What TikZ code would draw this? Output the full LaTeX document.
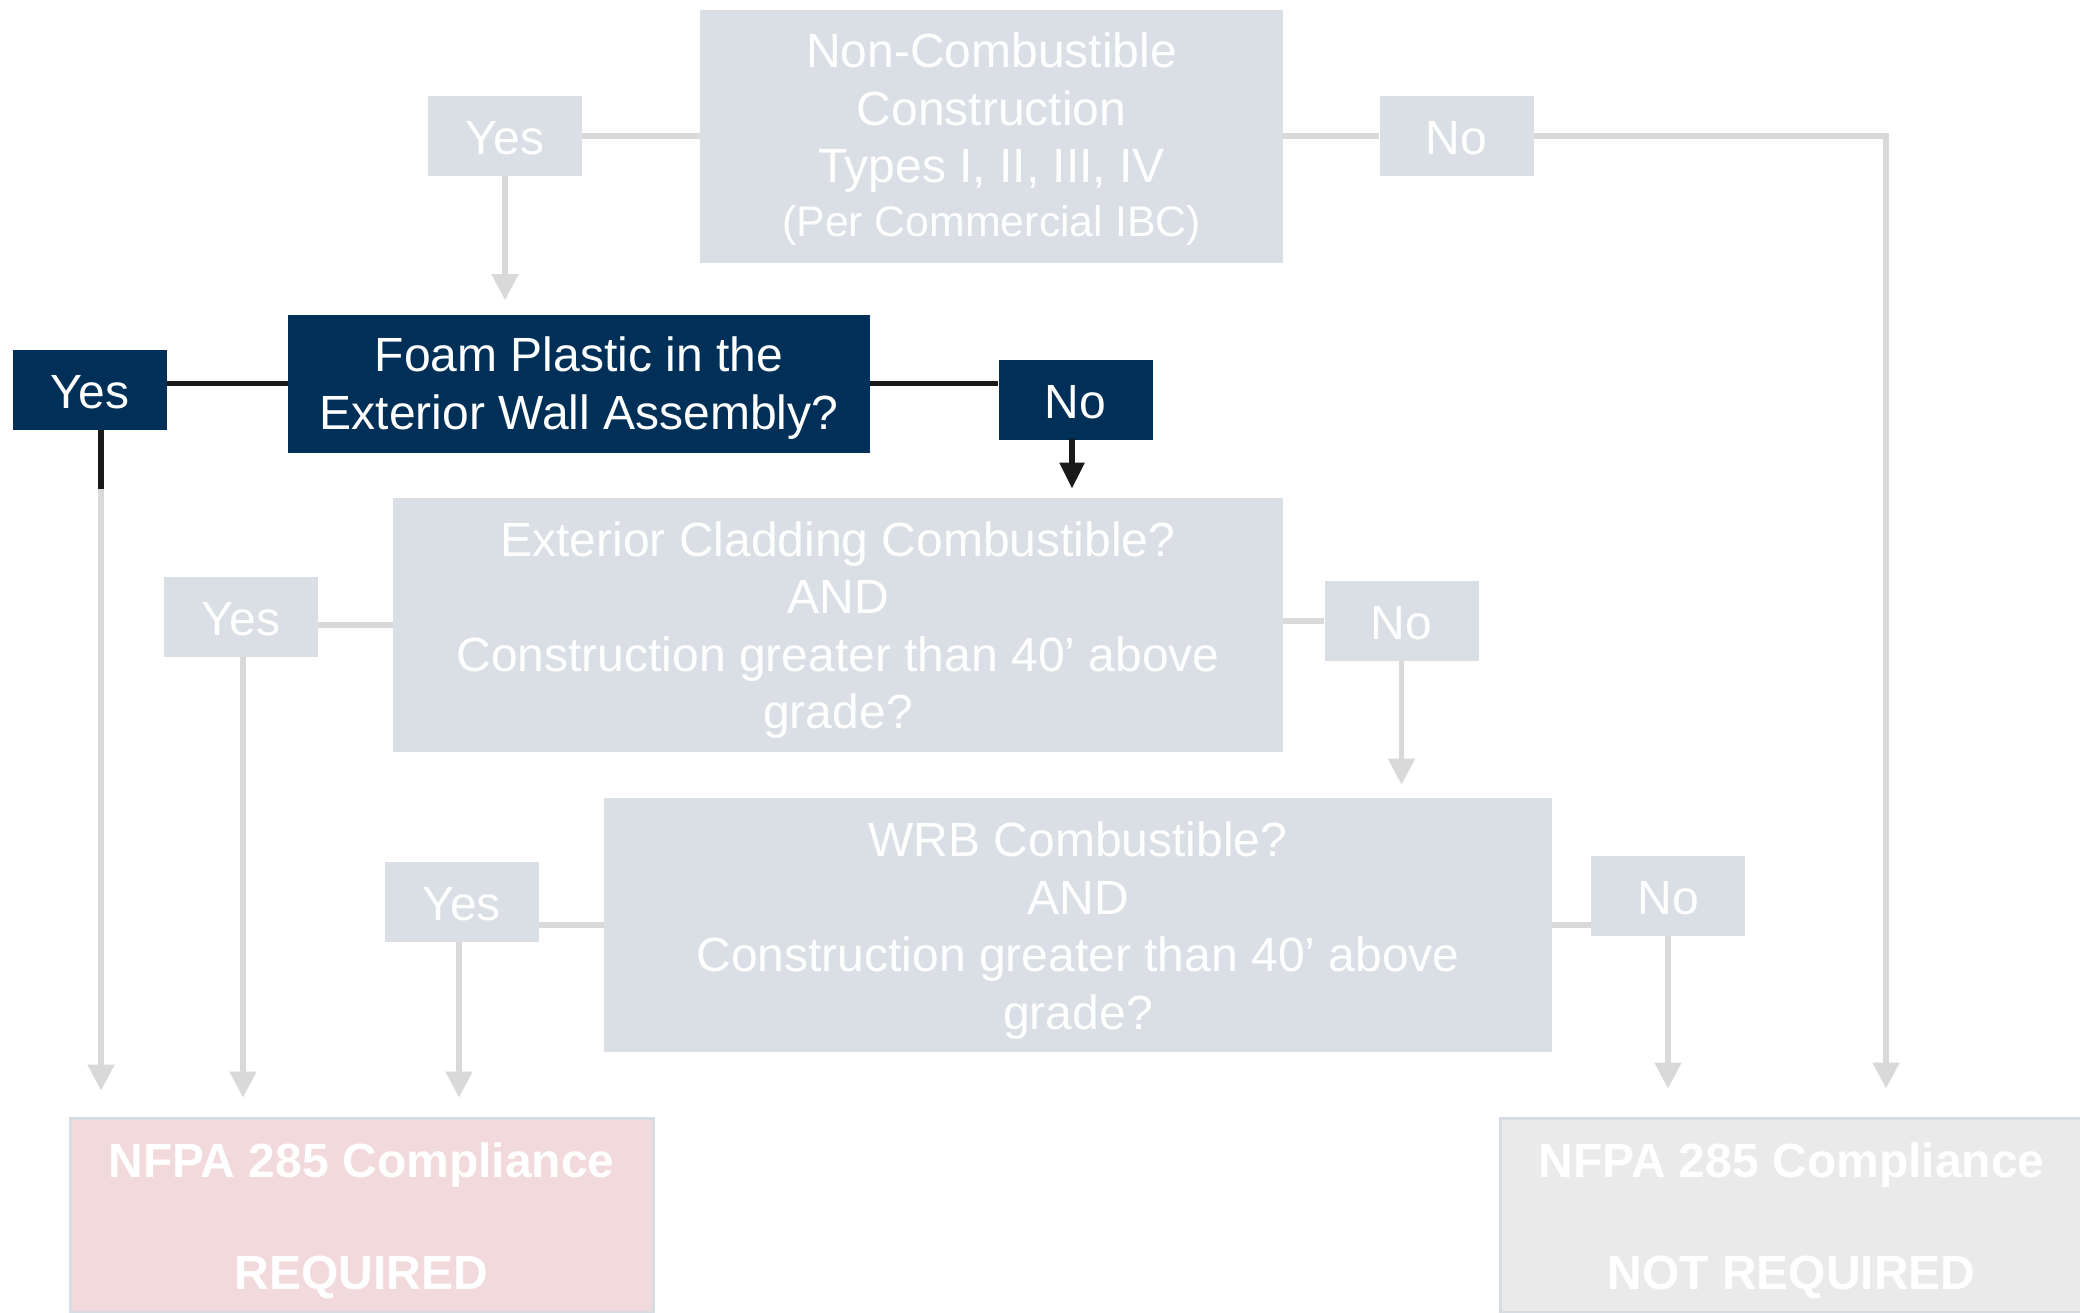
\documentclass[tikz,border=0pt]{standalone}
\usepackage{fontspec}
\setmainfont{Liberation Sans}
\usetikzlibrary{arrows.meta}

\definecolor{boxgray}{RGB}{217,223,228}
\definecolor{linegray}{RGB}{217,217,217}
\definecolor{navy}{RGB}{0,48,87}
\definecolor{darkline}{RGB}{26,26,26}
\definecolor{reqpink}{RGB}{242,217,219}
\definecolor{nreqgray}{RGB}{234,234,234}
\definecolor{edgegray}{RGB}{214,220,226}

% invisible strut on a first line: lowers the text block inside its box
\newcommand\boxstrut[1]{\rule{0pt}{#1}}

\tikzset{
  base/.style={rectangle, inner sep=0pt, text=white, align=center,
    font=\fontsize{24pt}{28.75pt}\selectfont},
  greybox/.style={base, fill=boxgray},
  navybox/.style={base, fill=navy},
  answer/.style={minimum width=77pt, minimum height=40pt},
  resultbox/.style={base, draw=edgegray, line width=1.5pt,
    minimum width=291.5pt, minimum height=97pt,
    font=\fontsize{24pt}{28.75pt}\selectfont\bfseries},
  greyline/.style={draw=linegray, line width=2.6pt},
  darkconn/.style={draw=darkline, line width=2.7pt},
  greyarrow/.style={greyline, -{Triangle[width=13pt,length=13pt]}},
  darkarrow/.style={darkconn, -{Triangle[width=12pt,length=13pt]}}
}

\begin{document}
\begin{tikzpicture}[x=0.5pt, y=-0.5pt]
\clip (0,0) rectangle (2080,1312);
\fill[white] (0,0) rectangle (2080,1312);

% decision boxes
\node[greybox, minimum width=291.5pt, minimum height=126.5pt] (top) at (991.5,136.5)
  {\boxstrut{20.1pt}Non-Combustible\\Construction\\Types I, II, III, IV\\[-2pt]
   {\fontsize{21.4pt}{26pt}\selectfont (Per Commercial IBC)}};
\node[navybox, minimum width=291pt, minimum height=69pt] (foam) at (579,383.5)
  {\boxstrut{22.1pt}Foam Plastic in the\\Exterior Wall Assembly?};
\node[greybox, minimum width=445pt, minimum height=127pt] (clad) at (838,625)
  {\boxstrut{22.5pt}Exterior Cladding Combustible?\\AND\\Construction greater than 40’ above\\grade?};
\node[greybox, minimum width=474pt, minimum height=127pt] (wrb) at (1078,925)
  {\boxstrut{23.1pt}WRB Combustible?\\AND\\Construction greater than 40’ above\\grade?};

% answer boxes
\node[greybox, answer] (yes1) at (505,136) {\boxstrut{19.2pt}Yes};
\node[greybox, answer] (no1) at (1456.5,136) {\boxstrut{19.2pt}No};
\node[navybox, answer] (yes2) at (90,390) {\boxstrut{19.2pt}Yes};
\node[navybox, answer] (no2) at (1075.5,399.5) {\boxstrut{19.2pt}No};
\node[greybox, answer] (yes3) at (241,617) {\boxstrut{19.2pt}Yes};
\node[greybox, answer] (no3) at (1401.5,621) {\boxstrut{19.2pt}No};
\node[greybox, answer] (yes4) at (461.5,902) {\boxstrut{19.2pt}Yes};
\node[greybox, answer] (no4) at (1668,896) {\boxstrut{19.2pt}No};

% outcome boxes
\node[resultbox, fill=reqpink] (req) at (361.5,1215)
  {\boxstrut{23.5pt}NFPA 285 Compliance\\[27.3pt]REQUIRED};
\node[resultbox, fill=nreqgray] (nreq) at (1791.5,1215)
  {\boxstrut{23.5pt}NFPA 285 Compliance\\[27.3pt]NOT REQUIRED};

% helper points for off-centre runs
\coordinate (rcorner) at (1886,136);
\coordinate (ydrop) at (101,489);
\coordinate (ndrop) at (1072,439);

% first question
\draw[greyline] (yes1.east) -- (yes1.east -| top.west);
\draw[greyline] (top.east |- no1.west) -- (no1.west);
\draw[greyarrow, shorten >=7pt] (yes1.south) -- (yes1.south |- foam.north);
\draw[greyarrow, shorten >=14pt] (no1.east) -- (rcorner) -- (rcorner |- nreq.north);

% foam plastic question
\draw[darkconn] (yes2.east |- foam.west) -- (foam.west);
\draw[darkconn] (foam.east) -- (foam.east -| no2.west);
\draw[darkconn] (ydrop |- yes2.south) -- (ydrop);
\draw[greyarrow, shorten >=13pt] (ydrop) -- (ydrop |- req.north);
\draw[darkarrow, shorten >=4.5pt] (ndrop) -- (ndrop |- clad.north);

% cladding question
\draw[greyline] (clad.west) -- (clad.west -| yes3.east);
\draw[greyline] (clad.east |- no3.west) -- (no3.west);
\draw[greyarrow, shorten >=9.5pt] ([xshift=1pt]yes3.south) -- ([xshift=1pt]yes3.south |- req.north);
\draw[greyarrow, shorten >=6.5pt] (no3.south) -- (no3.south |- wrb.north);

% WRB question
\draw[greyline] (wrb.west) -- (wrb.west -| yes4.east);
\draw[greyline] (wrb.east) -- (wrb.east -| no4.west);
\draw[greyarrow, shorten >=9.5pt] ([xshift=-1.25pt]yes4.south) -- ([xshift=-1.25pt]yes4.south |- req.north);
\draw[greyarrow, shorten >=14pt] (no4.south) -- (no4.south |- nreq.north);
\end{tikzpicture}
\end{document}
